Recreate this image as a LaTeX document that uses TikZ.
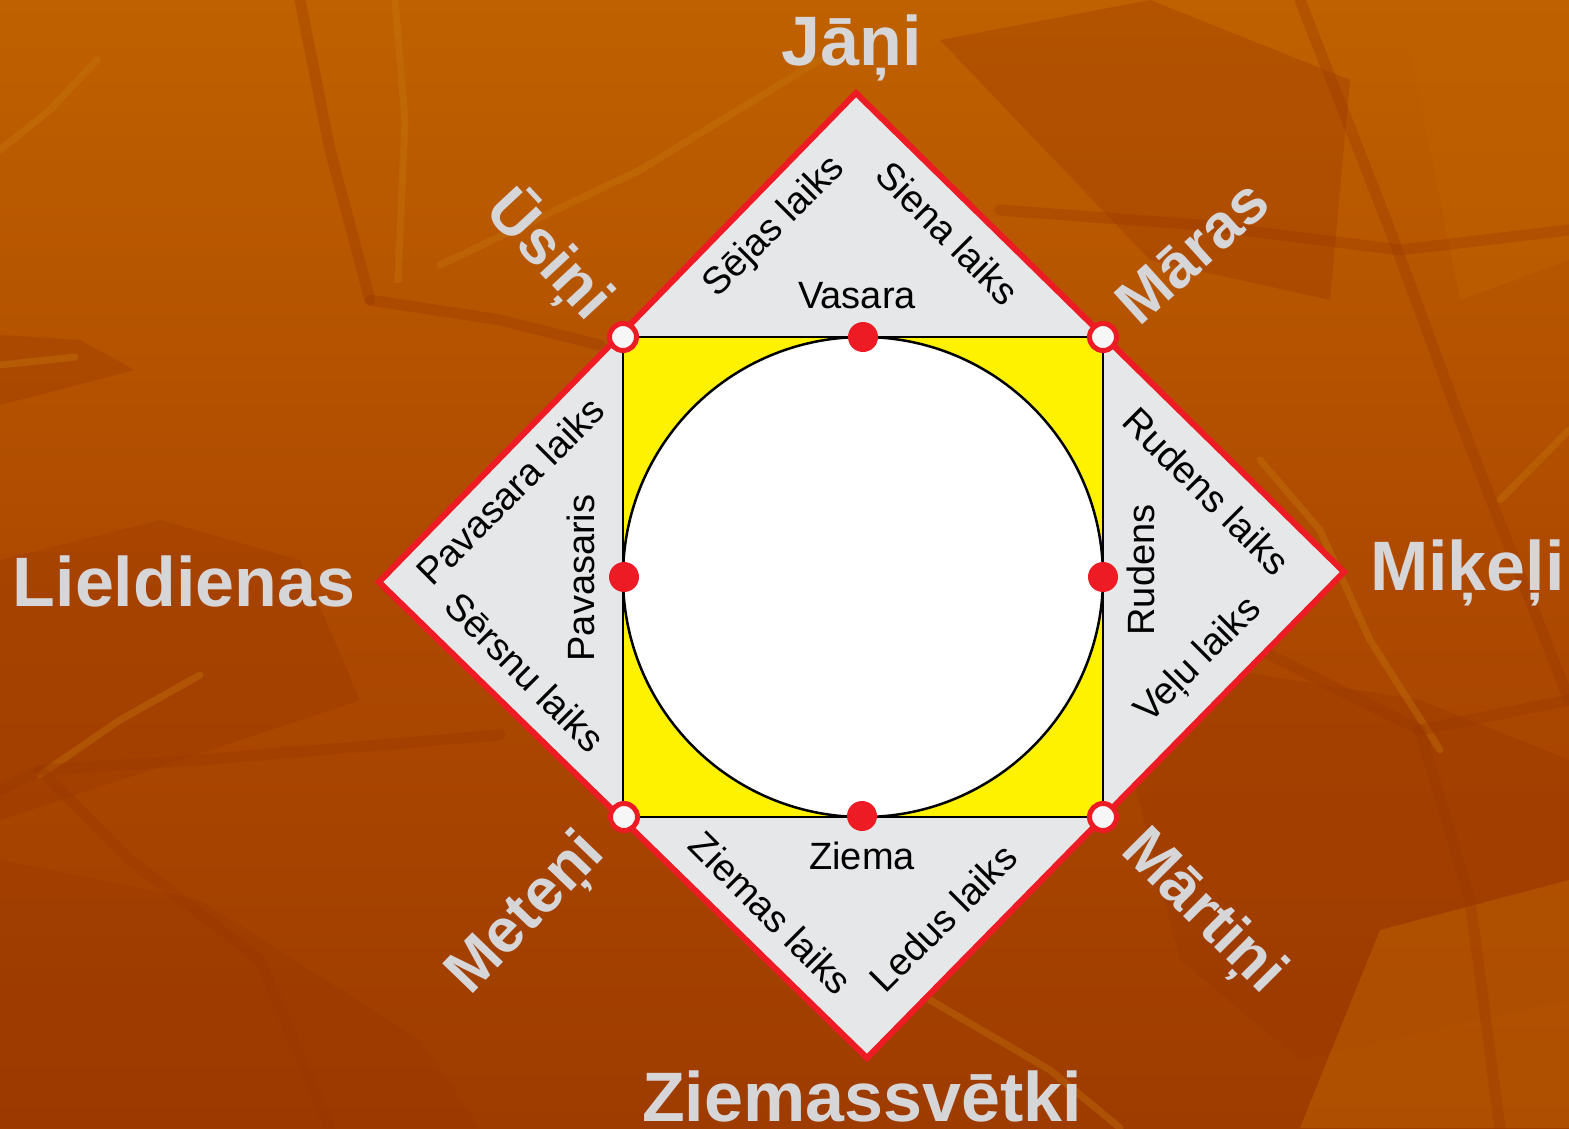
\documentclass[tikz,border=0pt]{standalone}
\usepackage{fontspec}
\setmainfont{Liberation Sans}
\definecolor{bgtop}{HTML}{BF6100}
\definecolor{bgmid}{HTML}{AE4A00}
\definecolor{bgbot}{HTML}{9E3C00}
\definecolor{redl}{HTML}{ED1C24}
\definecolor{grayf}{HTML}{E6E7E8}
\definecolor{yel}{HTML}{FFF200}
\definecolor{lbl}{HTML}{D6D6D8}
\definecolor{streak}{HTML}{C87A10}
\definecolor{darkbg}{HTML}{983500}
\begin{document}
\begin{tikzpicture}[x=1pt,y=-1pt,
  outer/.style={font=\fontsize{70}{70}\selectfont\bfseries, text=lbl, inner sep=0pt},
  outerd/.style={font=\fontsize{62}{62}\selectfont\bfseries, text=lbl, inner sep=0pt},
  inner/.style={font=\fontsize{38}{38}\selectfont, text=black, inner sep=0pt},
  reddot/.style={circle, fill=redl, minimum size=30pt, inner sep=0pt},
  cornerdot/.style={circle, fill=white!93!gray, draw=redl, line width=5pt, minimum size=27pt, inner sep=0pt},
  lightline/.style={draw=streak, opacity=0.35, line width=7pt, line cap=round, line join=round},
  darkline/.style={draw=darkbg, opacity=0.3, line width=11pt, line cap=round, line join=round},
  darkpoly/.style={fill=darkbg, opacity=0.3},
  litepoly/.style={fill=bgtop, opacity=0.5}]
\useasboundingbox (0,0) rectangle (1569,1128);
% background
\shade[top color=bgtop, bottom color=bgbot, middle color=bgmid] (0,0) rectangle (1569,1128);
\path[darkpoly] (0,335) -- (80,340) -- (135,370) -- (0,405) -- cycle;
\path[darkpoly] (0,560) -- (160,520) -- (300,560) -- (360,700) -- (180,760) -- (0,820) -- cycle;
\path[darkpoly] (0,860) -- (200,900) -- (420,1040) -- (480,1128) -- (0,1128) -- cycle;
\path[darkpoly] (1100,650) -- (1420,700) -- (1569,760) -- (1569,1000) -- (1300,1060) -- (1180,960) -- cycle;
\path[darkpoly] (940,40) -- (1150,0) -- (1350,80) -- (1330,300) -- (1150,260) -- cycle;
\path[litepoly] (1400,0) -- (1569,0) -- (1569,260) -- (1460,300) -- cycle;
\path[litepoly] (1380,930) -- (1569,880) -- (1569,1128) -- (1300,1128) -- cycle;
\path[lightline] (395,0) -- (405,120) -- (398,280);
\path[lightline] (0,150) -- (50,110) -- (97,60);
\path[lightline] (0,365) -- (75,357);
\path[lightline] (440,265) -- (640,170) -- (820,60);
\path[lightline] (40,775) -- (120,720) -- (200,675);
\path[lightline] (1260,460) -- (1320,530) -- (1370,640) -- (1440,750);
\path[lightline] (1500,500) -- (1569,430);
\path[lightline] (930,1000) -- (1050,1070) -- (1120,1128);
\path[darkline] (370,300) -- (500,320) -- (600,345);
\path[darkline] (1000,210) -- (1200,225) -- (1400,250) -- (1569,230);
\path[darkline] (1300,0) -- (1390,230) -- (1460,420) -- (1569,700);
\path[darkline] (0,790) -- (40,770) -- (130,860) -- (260,960) -- (330,1128);
\path[darkline] (40,770) -- (200,760) -- (500,735);
\path[darkline] (1420,730) -- (1470,900) -- (1500,1128);
\path[darkline] (1260,650) -- (1420,730) -- (1569,700);
\path[darkline] (370,300) -- (330,150) -- (300,0);
% geometry
\coordinate (T) at (856,93);
\coordinate (R) at (1344,572);
\coordinate (B) at (867,1058);
\coordinate (L) at (379,582);
\coordinate (sqTL) at (623,337);
\coordinate (sqBR) at (1103,817);
\coordinate (C) at (863,577);
\draw[fill=grayf, draw=redl, line width=6pt, line join=miter] (T) -- (R) -- (B) -- (L) -- cycle;
\draw[fill=yel, draw=black, line width=2.5pt] (sqTL) rectangle (sqBR);
\draw[fill=white, draw=black, line width=2.5pt] (C) circle[radius=240pt];
% dots
\node[reddot] (dN) at (863,337) {};
\node[reddot] (dW) at (624,577) {};
\node[reddot] (dE) at (1103,577) {};
\node[reddot] (dS) at (862,816) {};
\node[cornerdot] (cNW) at (623,337) {};
\node[cornerdot] (cNE) at (1103,337) {};
\node[cornerdot] (cSW) at (624,817) {};
\node[cornerdot] (cSE) at (1103,817) {};
% inner labels
\node[inner] (vasara) at (857,296) {Vasara};
\node[inner] (ziema) at (862,856) {Ziema};
\node[inner, rotate=90] (pavasaris) at (581,578) {Pavasaris};
\node[inner, rotate=90] (rudens) at (1141,570) {Rudens};
\node[inner, rotate=45] (sejas) at (775,227) {Sējas laiks};
\node[inner, rotate=-45] (siena) at (948,233) {Siena laiks};
\node[inner, rotate=45] (pavlaiks) at (510,491) {Pavasara laiks};
\node[inner, rotate=-45] (sersnu) at (525,672) {Sērsnu laiks};
\node[inner, rotate=-45] (rudlaiks) at (1207,491) {Rudens laiks};
\node[inner, rotate=45] (velu) at (1199,661) {Veļu laiks};
\node[inner, rotate=-45] (ziemlaiks) at (771,913) {Ziemas laiks};
\node[inner, rotate=45] (ledus) at (943,918) {Ledus laiks};
% outer labels
\node[outer, anchor=base] (jani) at (852,65) {Jāņi};
\node[outer, anchor=base] (lieldienas) at (184,606) {Lieldienas};
\node[outer, anchor=base west] (mikeli) at (1370,590) {Miķeļi};
\node[outer, anchor=base] (ziemassvetki) at (862,1121) {Ziemassvētki};
\node[outerd, rotate=-47] (usini) at (549,255) {Ūsiņi};
\node[outerd, rotate=42] (maras) at (1192,252) {Māras};
\node[outerd, rotate=46] (meteni) at (527,915) {Meteņi};
\node[outerd, rotate=-45] (martini) at (1202,913) {Mārtiņi};
\end{tikzpicture}
\end{document}
